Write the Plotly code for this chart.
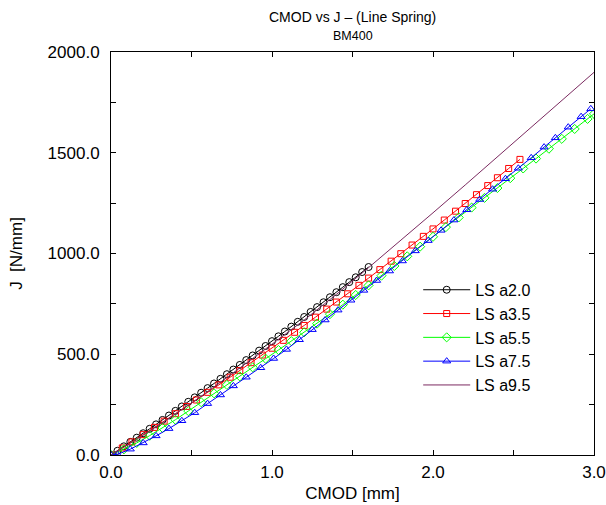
"""CMOD vs J curves for the BM400 line-spring models."""

import plotly.graph_objects as go

# LS a2.0 (black circles)
CMOD_A20 = [0.00, 0.04, 0.08, 0.12, 0.16, 0.20, 0.24, 0.28, 0.32, 0.36, 0.40, 0.44, 0.48, 0.52,
            0.56, 0.60, 0.64, 0.68, 0.72, 0.76, 0.80, 0.84, 0.88, 0.92, 0.96, 1.00, 1.04, 1.08,
            1.12, 1.16, 1.20, 1.24, 1.28, 1.32, 1.36, 1.40, 1.44, 1.48, 1.52, 1.56, 1.60]
J_A20 = [0, 21, 43, 65, 86, 108, 130, 152, 174, 196, 219, 241, 264, 286, 309, 332, 355, 378,
         401, 424, 447, 471, 494, 518, 541, 565, 589, 613, 637, 661, 685, 710, 734, 758, 783,
         808, 833, 858, 882, 908, 933]

# LS a3.5 (red squares)
CMOD_A35 = [0.00, 0.07, 0.13, 0.20, 0.27, 0.33, 0.40, 0.47, 0.53, 0.60, 0.67, 0.74, 0.80, 0.87,
            0.94, 1.00, 1.07, 1.14, 1.20, 1.27, 1.34, 1.40, 1.47, 1.54, 1.60, 1.67, 1.74, 1.80,
            1.87, 1.94, 2.00, 2.07, 2.14, 2.20, 2.27, 2.34, 2.40, 2.47, 2.54]
J_A35 = [0, 35, 65, 101, 137, 168, 205, 241, 273, 311, 348, 386, 419, 458, 496, 530, 569, 609,
         643, 684, 724, 759, 800, 842, 878, 920, 962, 999, 1042, 1085, 1122, 1166, 1210, 1248,
         1292, 1337, 1376, 1422, 1467]

# LS a5.5 (green diamonds)
CMOD_A55 = [0.00, 0.08, 0.16, 0.24, 0.32, 0.40, 0.48, 0.56, 0.64, 0.72, 0.80, 0.88, 0.96, 1.04,
            1.12, 1.20, 1.28, 1.36, 1.44, 1.52, 1.60, 1.68, 1.76, 1.84, 1.92, 2.00, 2.08, 2.16,
            2.24, 2.32, 2.40, 2.48, 2.56, 2.64, 2.72, 2.80, 2.88, 2.96, 3.00]
J_A55 = [0, 28, 60, 96, 134, 175, 218, 262, 306, 348, 390, 435, 478, 521, 565, 609, 652, 699,
         746, 794, 842, 890, 938, 986, 1034, 1083, 1131, 1179, 1228, 1276, 1325, 1374, 1422,
         1471, 1520, 1569, 1618, 1668, 1693]

# LS a7.5 (blue triangles)
CMOD_A75 = [0.00, 0.04, 0.12, 0.20, 0.28, 0.36, 0.44, 0.52, 0.60, 0.68, 0.76, 0.84, 0.93, 1.01,
            1.09, 1.17, 1.25, 1.33, 1.41, 1.49, 1.57, 1.65, 1.73, 1.81, 1.89, 1.97, 2.05, 2.13,
            2.21, 2.29, 2.37, 2.45, 2.53, 2.61, 2.69, 2.76, 2.84, 2.92, 2.98]
J_A75 = [0, 3, 29, 60, 95, 131, 170, 210, 255, 298, 343, 386, 433, 479, 524, 572, 622, 670,
         719, 768, 817, 866, 913, 963, 1013, 1064, 1115, 1166, 1217, 1268, 1319, 1371, 1423,
         1475, 1528, 1574, 1627, 1679, 1718]

# LS a9.5 (plain line)
CMOD_A95 = [0.0, 0.1, 0.2, 0.3, 0.4, 0.5, 0.6, 0.7, 0.8, 0.9, 1.0, 1.2, 1.4, 1.6, 1.8, 2.0,
            2.2, 2.4, 2.6, 2.8, 3.0]
J_A95 = [0, 48, 98, 150, 203, 258, 314, 372, 430, 490, 550, 670, 797, 930, 1065, 1202, 1340,
         1479, 1619, 1759, 1899]

X_TICKS = [0.0, 1.0, 2.0, 3.0]
Y_TICKS = [0, 500, 1000, 1500, 2000]

FONT = "Liberation Sans, Arial, sans-serif"

SERIES = [
    ("LS a2.0", CMOD_A20, J_A20, "#000000", "circle-open", 7),
    ("LS a3.5", CMOD_A35, J_A35, "#ff0000", "square-open", 6),
    ("LS a5.5", CMOD_A55, J_A55, "#00ff00", "diamond-open", 7),
    ("LS a7.5", CMOD_A75, J_A75, "#0000ff", "triangle-up-open", 7),
]

fig = go.Figure()
for name, xs, ys, color, symbol, size in SERIES:
    fig.add_trace(
        go.Scatter(
            x=xs,
            y=ys,
            name=name,
            mode="lines+markers",
            line={"color": color, "width": 1},
            marker={"symbol": symbol, "size": size, "color": color, "line": {"color": color, "width": 1}},
        )
    )
fig.add_trace(
    go.Scatter(
        x=CMOD_A95,
        y=J_A95,
        name="LS a9.5",
        mode="lines",
        line={"color": "#7b2a60", "width": 1},
    )
)

axis_common = dict(
    showline=True,
    linecolor="black",
    linewidth=1,
    mirror="ticks",
    ticks="inside",
    ticklen=5,
    tickcolor="black",
    showgrid=False,
    zeroline=False,
    automargin=False,
    tickfont={"size": 17, "color": "black", "family": FONT},
    minor={"ticks": "inside", "ticklen": 5, "tickcolor": "black", "showgrid": False},
)

fig.update_xaxes(
    range=[0, 3],
    tickvals=X_TICKS,
    ticktext=[f"{v:.1f}" for v in X_TICKS],
    minor_dtick=0.5,
    ticklabelstandoff=2,
    title={"text": "CMOD [mm]", "font": {"size": 17, "family": FONT, "color": "black"}, "standoff": 5},
    **axis_common,
)
fig.update_yaxes(
    range=[0, 2000],
    tickvals=Y_TICKS,
    ticktext=[f"{v:.1f}" for v in Y_TICKS],
    minor_dtick=250,
    ticklabelstandoff=7,
    title={"text": "J  [N/mm]", "font": {"size": 17, "family": FONT, "color": "black"}, "standoff": 20},
    **axis_common,
)

fig.update_layout(
    width=606,
    height=505,
    margin={"l": 111, "r": 12, "t": 52, "b": 50},
    paper_bgcolor="white",
    plot_bgcolor="white",
    font={"family": FONT, "color": "black"},
    showlegend=True,
    legend={
        "x": 0.636,
        "y": 0.452,
        "xanchor": "left",
        "yanchor": "top",
        "bgcolor": "rgba(0,0,0,0)",
        "font": {"size": 16, "family": FONT, "color": "black"},
        "itemwidth": 47,
        "tracegroupgap": 0,
    },
    annotations=[
        {
            "text": "CMOD vs J – (Line Spring)",
            "xref": "paper",
            "yref": "paper",
            "x": 0.5,
            "y": 1.0,
            "yshift": 35,
            "xanchor": "center",
            "yanchor": "middle",
            "showarrow": False,
            "font": {"size": 14, "family": FONT, "color": "black"},
        },
        {
            "text": "BM400",
            "xref": "paper",
            "yref": "paper",
            "x": 0.5,
            "y": 1.0,
            "yshift": 16,
            "xanchor": "center",
            "yanchor": "middle",
            "showarrow": False,
            "font": {"size": 12.5, "family": FONT, "color": "black"},
        },
    ],
)

# drop the default page margin so the figure sits at the window's corner
fig.write_html(
    "out.html",
    config={"displayModeBar": False},
    post_script="document.body.style.margin='0';document.body.style.overflow='hidden';",
)
